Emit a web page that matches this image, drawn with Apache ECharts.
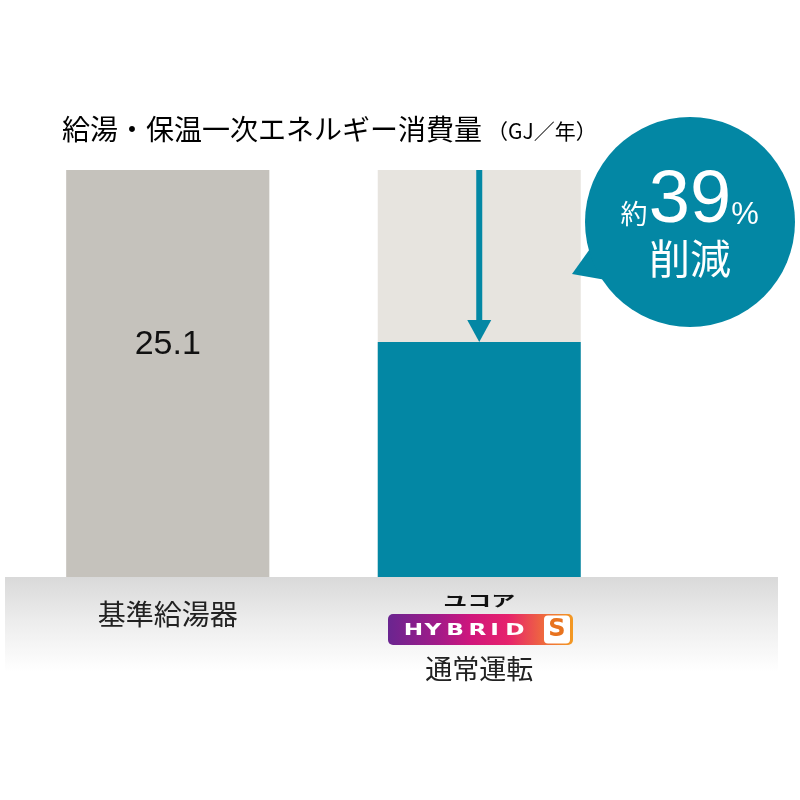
<!DOCTYPE html>
<html>
<head>
<meta charset="utf-8">
<script src="https://cdn.jsdelivr.net/npm/echarts@6/dist/echarts.min.js"></script>
<style>html,body{margin:0;padding:0;background:#fff}#c{width:800px;height:800px}</style>
</head>
<body>
<div id="c"></div>
<script>
const categories = ['基準給湯器', '通常運転'];
const values = [25.1, 14.5];
const valueLabels = ['25.1', ''];
const barColors = ['#c5c2bc', '#0387a4'];
const titleText = '給湯・保温一次エネルギー消費量';
const unitText = '（GJ／年）';
const calloutPrefix = '約';
const calloutNumber = '39';
const calloutPercent = '%';
const calloutWord = '削減';
const brandKana = 'ユコア';
const brandLetters = ['H', 'Y', 'B', 'R', 'I', 'D'];
const brandS = 'S';

const FONT = '"Noto Sans CJK JP","Noto Sans",sans-serif';
const chart = echarts.init(document.getElementById('c'));

const option = {
  animation: false,
  backgroundColor: '#fff',
  grid: { left: 12, right: 165, top: 170, bottom: 223 },
  xAxis: {
    type: 'category',
    data: categories,
    axisLine: { show: false },
    axisTick: { show: false },
    axisLabel: {
      margin: 0,
      formatter: (v, i) => (i === 0 ? '{a|' + v + '}' : '{b|' + v + '}'),
      rich: {
        a: { fontSize: 28, fontFamily: FONT, color: '#222', padding: [23, 0, 0, 0] },
        b: { fontSize: 27, fontFamily: FONT, color: '#222', padding: [78, 0, 0, 0] }
      }
    }
  },
  yAxis: { type: 'value', min: 0, max: Math.max(...values), show: false },
  series: [{
    type: 'bar',
    barWidth: 203,
    showBackground: true,
    backgroundStyle: { color: '#e7e4df' },
    data: values.map((v, i) => ({
      value: v,
      itemStyle: { color: barColors[i] },
      label: {
        show: valueLabels[i] !== '',
        formatter: valueLabels[i],
        position: ['50%', 175],
        align: 'center',
        verticalAlign: 'middle',
        fontSize: 34,
        fontFamily: '"Liberation Sans",Arial,sans-serif',
        color: '#111'
      }
    })),
    z: 3
  }]
};
chart.setOption(option);

const top1 = chart.convertToPixel({ gridIndex: 0 }, [1, values[0]]);
const bot1 = chart.convertToPixel({ gridIndex: 0 }, [1, values[1]]);
const ax = top1[0];

const letterX = [413.5, 433, 455, 477.5, 494.5, 515];

chart.setOption({
  graphic: [
    // floor band
    {
      type: 'rect', z: 0,
      shape: { x: 5, y: 577, width: 773, height: 95 },
      style: {
        fill: new echarts.graphic.LinearGradient(0, 0, 0, 1, [
          { offset: 0, color: '#d9d9d9' },
          { offset: 0.45, color: '#ececec' },
          { offset: 1, color: '#ffffff' }
        ])
      }
    },
    // title
    {
      type: 'text', left: 62, top: 115, z: 10,
      style: {
        text: '{t|' + titleText + '}{u|' + unitText + '}',
        rich: {
          t: { fontSize: 28, fontFamily: FONT, color: '#222' },
          u: { fontSize: 21, fontFamily: FONT, color: '#222', padding: [4, 0, 0, 5] }
        }
      }
    },
    // arrow
    {
      type: 'line', z: 10,
      shape: { x1: ax, y1: top1[1], x2: ax, y2: bot1[1] - 20 },
      style: { stroke: '#0387a4', lineWidth: 6 }
    },
    {
      type: 'polygon', z: 10,
      shape: { points: [[ax - 12, bot1[1] - 22], [ax + 12, bot1[1] - 22], [ax, bot1[1]]] },
      style: { fill: '#0387a4' }
    },
    // callout
    {
      type: 'polygon', z: 10,
      shape: { points: [[572, 274], [592, 246], [606, 280]] },
      style: { fill: '#0387a4' }
    },
    {
      type: 'circle', z: 10,
      shape: { cx: 690, cy: 222, r: 105 },
      style: { fill: '#0387a4' }
    },
    {
      type: 'text', z: 11,
      style: { text: calloutPrefix, x: 634, y: 214, align: 'center', verticalAlign: 'middle', fontSize: 27, fontFamily: FONT, fill: '#fff' }
    },
    {
      type: 'text', z: 11,
      style: { text: calloutNumber, x: 690, y: 202, align: 'center', verticalAlign: 'middle', fontSize: 74, fontFamily: '"Liberation Sans",Arial,sans-serif', fill: '#fff' }
    },
    {
      type: 'text', z: 11,
      style: { text: calloutPercent, x: 745, y: 215, align: 'center', verticalAlign: 'middle', fontSize: 31, fontFamily: '"Liberation Sans",Arial,sans-serif', fill: '#fff' }
    },
    {
      type: 'text', z: 11,
      style: { text: calloutWord, x: 690, y: 258, align: 'center', verticalAlign: 'middle', fontSize: 41, fontFamily: FONT, fill: '#fff' }
    },
    // brand kana
    {
      type: 'text', z: 11,
      x: ax, y: 600, scaleY: 0.62,
      style: { text: brandKana, x: 0, y: 0, align: 'center', verticalAlign: 'middle', fontSize: 24, fontWeight: 'bold', fontFamily: FONT, fill: '#111' }
    },
    // brand logo
    {
      type: 'rect', z: 11,
      shape: { x: 388, y: 614, width: 185, height: 31, r: 5 },
      style: {
        fill: new echarts.graphic.LinearGradient(0, 0, 1, 0, [
          { offset: 0, color: '#6a2590' },
          { offset: 0.28, color: '#a41a88' },
          { offset: 0.45, color: '#d0167c' },
          { offset: 0.65, color: '#e6226c' },
          { offset: 0.85, color: '#ef6c3c' },
          { offset: 1, color: '#f39a22' }
        ])
      }
    },
    ...brandLetters.map((l, i) => ({
      type: 'text', z: 12,
      x: letterX[i], y: 630.5, scaleX: 1.45,
      style: { text: l, x: 0, y: 0, align: 'center', verticalAlign: 'middle', fontSize: 16, fontWeight: 'bold', fontFamily: '"DejaVu Sans",sans-serif', fill: '#fff' }
    })),
    {
      type: 'rect', z: 12,
      shape: { x: 544, y: 615.5, width: 26, height: 28, r: 4 },
      style: { fill: '#fff' }
    },
    {
      type: 'text', z: 13,
      style: { text: brandS, x: 557, y: 630, align: 'center', verticalAlign: 'middle', fontSize: 24, fontWeight: 'bold', fontFamily: '"DejaVu Sans",sans-serif', fill: '#e8731f' }
    }
  ]
});
</script>
</body>
</html>
